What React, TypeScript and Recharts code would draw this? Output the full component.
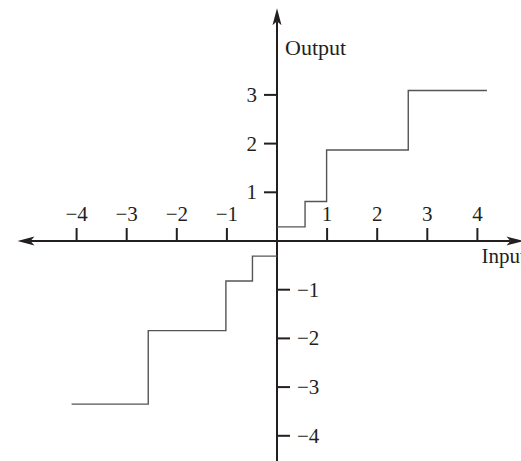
import { Line, LineChart, ReferenceDot, ReferenceLine, XAxis, YAxis } from "recharts";

// Quantizer staircase, right half (input >= 0)
const positiveBranch = [
  { input: 0, output: 0.29 },
  { input: 0.56, output: 0.81 },
  { input: 0.99, output: 1.87 },
  { input: 2.62, output: 3.09 },
  { input: 4.19, output: 3.09 },
];

// left half (input <= 0)
const negativeBranch = [
  { input: -4.1, output: -3.35 },
  { input: -2.57, output: -1.84 },
  { input: -1.02, output: -0.82 },
  { input: -0.49, output: -0.31 },
  { input: 0, output: -0.31 },
];

const inputTicks = [-4, -3, -2, -1, 1, 2, 3, 4];
const inputTickLabels = ["\u22124", "\u22123", "\u22122", "\u22121", "1", "2", "3", "4"];
const outputTicks = [3, 2, 1, -1, -2, -3, -4];
const outputTickLabels = ["3", "2", "1", "\u22121", "\u22122", "\u22123", "\u22124"];

const WIDTH = 521;
const HEIGHT = 461;
const MARGIN = { top: 1, right: 1, bottom: 1, left: 1 };
const ORIGIN_X = 277;
const ORIGIN_Y = 241;
const UNIT_X = 50.1;
const UNIT_Y = 48.7;

const xDomain = [
  -(ORIGIN_X - MARGIN.left) / UNIT_X,
  (WIDTH - MARGIN.right - ORIGIN_X) / UNIT_X,
];
const yDomain = [
  -(HEIGHT - MARGIN.bottom - ORIGIN_Y) / UNIT_Y,
  (ORIGIN_Y - MARGIN.top) / UNIT_Y,
];

const INK = "#231f20";
const FONT = "'Liberation Serif', 'Times New Roman', serif";

// arrowhead polygon pointing from (fx,fy) towards tip (tx,ty)
const arrowHead = (fx: number, fy: number, tx: number, ty: number) => {
  const len = Math.hypot(tx - fx, ty - fy) || 1;
  const dx = (tx - fx) / len;
  const dy = (ty - fy) / len;
  const nx = -dy;
  const ny = dx;
  const L = 17;
  const hw = 4.5;
  const pts = [
    [tx, ty],
    [tx - L * dx + hw * nx, ty - L * dy + hw * ny],
    [tx - (L - 4) * dx, ty - (L - 4) * dy],
    [tx - L * dx - hw * nx, ty - L * dy - hw * ny],
  ];
  return <polygon points={pts.map((p) => p.join(",")).join(" ")} fill={INK} />;
};

const HorizontalAxis = (props: any) => {
  const { x1, y1, x2, y2 } = props;
  return (
    <g>
      <line x1={x1 + 13} y1={y1} x2={x2 - 13} y2={y2} stroke={INK} strokeWidth={2} />
      {arrowHead(x2, y2, x1, y1)}
      {arrowHead(x1, y1, x2, y2)}
      <text x={x2 - 42} y={y2 + 22} fontFamily={FONT} fontSize={21} fill={INK}>
        Input
      </text>
    </g>
  );
};

const VerticalAxis = (props: any) => {
  const { x1, y1, x2, y2 } = props;
  return (
    <g>
      <line x1={x1} y1={y1} x2={x2} y2={y2 + 13} stroke={INK} strokeWidth={2} />
      {arrowHead(x1, y1, x2, y2)}
      <text x={x2 + 8} y={y2 + 47} fontFamily={FONT} fontSize={22} fill={INK}>
        Output
      </text>
    </g>
  );
};

const InputTick = (label: string) => (props: any) => {
  const { cx, cy } = props;
  return (
    <g>
      <line x1={cx} y1={cy} x2={cx} y2={cy - 13} stroke={INK} strokeWidth={2} />
      <text x={cx} y={cy - 20} textAnchor="middle" fontFamily={FONT} fontSize={21} fill={INK}>
        {label}
      </text>
    </g>
  );
};

const OutputTick = (label: string, value: number) => (props: any) => {
  const { cx, cy } = props;
  const side = value > 0 ? -1 : 1;
  return (
    <g>
      <line x1={cx} y1={cy} x2={cx + side * 13} y2={cy} stroke={INK} strokeWidth={2} />
      <text
        x={cx + side * 20}
        y={cy + 7}
        textAnchor={value > 0 ? "end" : "start"}
        fontFamily={FONT}
        fontSize={21}
        fill={INK}
      >
        {label}
      </text>
    </g>
  );
};

export default function App() {
  return (
    <div style={{ position: "absolute", left: 0, top: 0, background: "#fff" }}>
      <LineChart width={WIDTH} height={HEIGHT} margin={MARGIN}>
        <XAxis type="number" dataKey="input" domain={xDomain} allowDataOverflow hide />
        <YAxis type="number" dataKey="output" domain={yDomain} allowDataOverflow hide />
        <ReferenceLine
          segment={[{ x: -5.18, y: 0 }, { x: 4.92, y: 0 }]}
          ifOverflow="visible"
          shape={HorizontalAxis}
        />
        <ReferenceLine
          segment={[{ x: 0, y: -4.8 }, { x: 0, y: 4.78 }]}
          ifOverflow="visible"
          shape={VerticalAxis}
        />
        {inputTicks.map((t, i) => (
          <ReferenceDot
            key={`x${t}`}
            x={t}
            y={0}
            r={0}
            ifOverflow="visible"
            shape={InputTick(inputTickLabels[i])}
          />
        ))}
        {outputTicks.map((t, i) => (
          <ReferenceDot
            key={`y${t}`}
            x={0}
            y={t}
            r={0}
            ifOverflow="visible"
            shape={OutputTick(outputTickLabels[i], t)}
          />
        ))}
        <Line
          data={positiveBranch}
          dataKey="output"
          type="stepAfter"
          stroke="#555"
          strokeWidth={1.4}
          dot={false}
          activeDot={false}
          isAnimationActive={false}
        />
        <Line
          data={negativeBranch}
          dataKey="output"
          type="stepAfter"
          stroke="#555"
          strokeWidth={1.4}
          dot={false}
          activeDot={false}
          isAnimationActive={false}
        />
      </LineChart>
    </div>
  );
}
